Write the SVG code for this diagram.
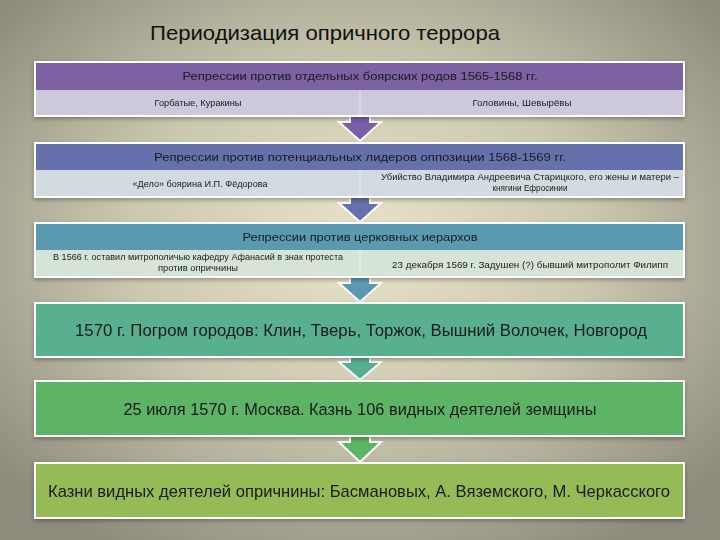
<svg xmlns="http://www.w3.org/2000/svg" width="720" height="540" viewBox="0 0 720 540">
<defs>
<radialGradient id="bg" cx="50%" cy="45%" r="65%">
<stop offset="0" stop-color="#e8e4c9"/>
<stop offset="0.5" stop-color="#cbc8b0"/>
<stop offset="1" stop-color="#8e8c7c"/>
</radialGradient>
<filter id="sh" x="-5%" y="-20%" width="110%" height="150%">
<feDropShadow dx="0" dy="2" stdDeviation="2" flood-color="#000" flood-opacity="0.3"/>
</filter>
<style>
.box{stroke:#ffffff;stroke-width:2}
.arr{stroke:#ffffff;stroke-width:2;stroke-linejoin:miter}
.t{font-family:"Liberation Sans",Arial,sans-serif;fill:#1a1a1a;text-anchor:middle}
.h{font-size:11.5px}
.s{font-size:8.5px}
.b{font-size:17px}
.title{font-family:"Liberation Sans",Arial,sans-serif;font-size:21px;fill:#111}
.div{stroke:#ffffff;stroke-opacity:0.5;stroke-width:1}
</style>
</defs>
<rect width="720" height="540" fill="url(#bg)"/>
<text class="title" x="150" y="40" textLength="350" lengthAdjust="spacingAndGlyphs">Периодизация опричного террора</text>

<g id="connectors">
<path class="arr" fill="#7b5ea8" d="M350,116 L370,116 L370,122 L381,122 L360,141 L339,122 L350,122 Z"/>
<path class="arr" fill="#6670aa" d="M350,197 L370,197 L370,203 L381,203 L360,222 L339,203 L350,203 Z"/>
<path class="arr" fill="#5a9ab0" d="M350,277 L370,277 L370,283 L381,283 L360,302 L339,283 L350,283 Z"/>
<path class="arr" fill="#58b08e" d="M350,357 L370,357 L370,362 L381,362 L360,380 L339,362 L350,362 Z"/>
<path class="arr" fill="#5db466" d="M350,436 L370,436 L370,442 L381,442 L360,462 L339,442 L350,442 Z"/>
</g>

<g id="node1" filter="url(#sh)">
<rect class="box" x="35" y="62" width="649" height="54" fill="#cdc8dc"/>
<rect x="36" y="63" width="647" height="27" fill="#7b62a3"/>
<line class="div" x1="360" y1="91" x2="360" y2="115"/>
<text class="t h" x="360" y="80" textLength="355" lengthAdjust="spacingAndGlyphs">Репрессии против отдельных боярских родов 1565-1568 гг.</text>
<text class="t s" x="198" y="106" textLength="87" lengthAdjust="spacingAndGlyphs">Горбатые, Куракины</text>
<text class="t s" x="522" y="106" textLength="99" lengthAdjust="spacingAndGlyphs">Головины, Шевырёвы</text>
</g>

<g id="node2" filter="url(#sh)">
<rect class="box" x="35" y="143" width="649" height="54" fill="#d2dce0"/>
<rect x="36" y="144" width="647" height="26" fill="#6670aa"/>
<line class="div" x1="360" y1="171" x2="360" y2="196"/>
<text class="t h" x="360" y="161" textLength="412" lengthAdjust="spacingAndGlyphs">Репрессии против потенциальных лидеров оппозиции 1568-1569 гг.</text>
<text class="t s" x="200" y="187" textLength="135" lengthAdjust="spacingAndGlyphs">«Дело» боярина И.П. Фёдорова</text>
<text class="t s" x="530" y="180" textLength="298" lengthAdjust="spacingAndGlyphs">Убийство Владимира Андреевича Старицкого, его жены и матери –</text>
<text class="t s" x="530" y="191" textLength="75" lengthAdjust="spacingAndGlyphs">княгини Ефросинии</text>
</g>

<g id="node3" filter="url(#sh)">
<rect class="box" x="35" y="223" width="649" height="54" fill="#d5e4d6"/>
<rect x="36" y="224" width="647" height="26" fill="#5a9ab0"/>
<line class="div" x1="360" y1="251" x2="360" y2="276"/>
<text class="t h" x="360" y="241" textLength="235" lengthAdjust="spacingAndGlyphs">Репрессии против церковных иерархов</text>
<text class="t s" x="198" y="260" textLength="290" lengthAdjust="spacingAndGlyphs">В 1566 г. оставил митрополичью кафедру Афанасий в знак протеста</text>
<text class="t s" x="198" y="271" textLength="80" lengthAdjust="spacingAndGlyphs">против опричнины</text>
<text class="t s" x="530" y="268" textLength="276" lengthAdjust="spacingAndGlyphs">23 декабря 1569 г. Задушен (?) бывший митрополит Филипп</text>
</g>

<g id="node4" filter="url(#sh)">
<rect class="box" x="35" y="303" width="649" height="54" fill="#58b08e"/>
<text class="t b" x="361" y="336" textLength="572" lengthAdjust="spacingAndGlyphs">1570 г. Погром  городов: Клин, Тверь, Торжок, Вышний Волочек, Новгород</text>
</g>

<g id="node5" filter="url(#sh)">
<rect class="box" x="35" y="381" width="649" height="55" fill="#5db466"/>
<text class="t b" x="360" y="415" textLength="473" lengthAdjust="spacingAndGlyphs">25 июля 1570 г. Москва. Казнь 106 видных деятелей земщины</text>
</g>

<g id="node6" filter="url(#sh)">
<rect class="box" x="35" y="463" width="649" height="55" fill="#94bb56"/>
<text class="t b" x="359" y="497" textLength="622" lengthAdjust="spacingAndGlyphs">Казни видных деятелей опричнины: Басмановых, А. Вяземского, М. Черкасского</text>
</g>
</svg>
